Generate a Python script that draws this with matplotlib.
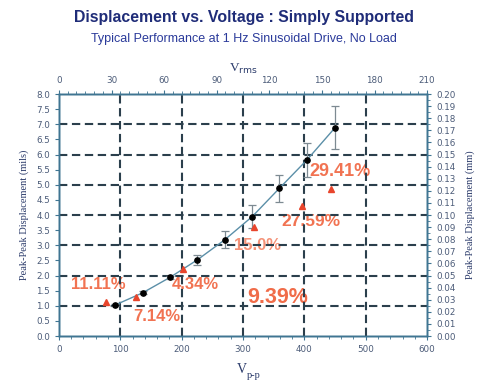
import matplotlib
matplotlib.use('Agg')
import matplotlib.pyplot as plt
from matplotlib.ticker import MultipleLocator

# measured displacement (mils) vs peak-peak voltage
vpp = [91, 136.5, 181, 225.6, 270, 315, 359, 404, 450]
disp = [1.02, 1.43, 1.94, 2.52, 3.18, 3.95, 4.88, 5.82, 6.89]
disp_err = [0.03, 0.05, 0.06, 0.16, 0.28, 0.38, 0.45, 0.55, 0.72]

# second series (red triangles)
tri_vpp = [76.6, 125, 201.8, 318, 395.9, 443]
tri_disp = [1.12, 1.29, 2.21, 3.61, 4.29, 4.87]

# percentage labels: text, x, y
pct_text = ["11.11%", "7.14%", "4.34%", "15.0%", "27.59%", "29.41%", "9.39%"]
pct_x = [63.6, 160, 223, 324, 411, 458, 357]
pct_y = [1.69, 0.66, 1.69, 2.98, 3.80, 5.45, 1.29]
pct_size = [12, 12, 12, 12, 12.5, 13, 15.5]
pct_alpha = [0.9, 0.9, 0.9, 0.7, 0.9, 0.9, 0.95]

navy = '#1f2c78'
spine_c = '#3f7592'
tick_c = '#4b5b78'
label_c = '#2a3a6a'
red = '#e8452c'
orange = '#f0643f'

fig = plt.figure(figsize=(4.87, 3.81), dpi=100)
ax = fig.add_axes([0.121, 0.118, 0.756, 0.635])

ax.set_xlim(0, 600)
ax.set_ylim(0, 8.0)

# dashed grid
for gx in [100, 200, 300, 400, 500]:
    ax.axvline(gx, color='#2b3f4c', lw=1.5, ls=(0, (4, 2.2)), zorder=3)
for gy in [1, 2, 3, 4, 5, 6, 7]:
    ax.axhline(gy, color='#2b3f4c', lw=1.5, ls=(0, (4, 2.2)), zorder=3)

# percentage text sits under the grid
for t, x, y, s, a in zip(pct_text, pct_x, pct_y, pct_size, pct_alpha):
    ax.text(x, y, t, color=orange, fontsize=s, fontweight='bold',
            ha='center', va='center', family='Liberation Sans', zorder=2, alpha=a)

ax.plot(vpp, disp, color='#5b8fa8', lw=1.0, zorder=4)
ax.errorbar(vpp, disp, yerr=disp_err, fmt='none', ecolor='#7d8a92',
            elinewidth=0.9, capsize=3, capthick=0.9, zorder=4)
ax.plot(vpp, disp, 'o', color='black', ms=3.8, zorder=5)
ax.plot(tri_vpp, tri_disp, '^', color=red, ms=5, zorder=5)

# bottom / left axes
ax.xaxis.set_major_locator(MultipleLocator(100))
ax.xaxis.set_minor_locator(MultipleLocator(20))
ax.yaxis.set_major_locator(MultipleLocator(0.5))
ax.yaxis.set_major_formatter(plt.FormatStrFormatter('%.1f'))
ax.tick_params(axis='both', which='major', labelsize=6.3, colors=spine_c,
               labelcolor=tick_c, length=3, width=0.8, direction='out')
ax.tick_params(axis='both', which='minor', colors=spine_c, length=2, width=0.6)
for sp in ax.spines.values():
    sp.set_color(spine_c)
    sp.set_linewidth(1.0)

ax.set_ylabel('Peak-Peak Displacement (mils)', family='Liberation Serif',
              fontsize=7.5, color=label_c, labelpad=5)

# V p-p label below the bottom axis
fig.text(0.507, 0.022, 'V', family='Liberation Serif', fontsize=10,
         color=label_c, ha='right', va='baseline')
fig.text(0.507, 0.009, 'p-p', family='Liberation Serif', fontsize=7.5,
         color=label_c, ha='left', va='baseline')

# top axis: Vrms
axt = ax.twiny()
axt.set_xlim(0, 210)
axt.xaxis.set_major_locator(MultipleLocator(30))
axt.xaxis.set_minor_locator(MultipleLocator(5))
axt.tick_params(axis='x', which='major', labelsize=6.3, colors=spine_c,
                labelcolor=tick_c, length=3, width=0.8)
axt.tick_params(axis='x', which='minor', colors=spine_c, length=2, width=0.6)
axt.set_xlabel(r'V$_{\rm rms}$', family='Liberation Serif', fontsize=9.5,
               color=label_c, labelpad=3)

# right axis: mm
axr = ax.twinx()
axr.set_ylim(0, 0.20)
axr.yaxis.set_major_locator(MultipleLocator(0.01))
axr.yaxis.set_minor_locator(MultipleLocator(0.005))
axr.yaxis.set_major_formatter(plt.FormatStrFormatter('%.2f'))
axr.tick_params(axis='y', which='major', labelsize=6.3, colors=spine_c,
                labelcolor=tick_c, length=3, width=0.8)
axr.tick_params(axis='y', which='minor', colors=spine_c, length=2, width=0.6)
axr.set_ylabel('Peak-Peak Displacement (mm)', family='Liberation Serif',
               fontsize=7.5, color=label_c, labelpad=7)
for a in (axt, axr):
    for sp in a.spines.values():
        sp.set_color(spine_c)
        sp.set_linewidth(1.0)

fig.text(0.5, 0.953, 'Displacement vs. Voltage : Simply Supported', ha='center',
         va='center', fontsize=11.4, fontweight='bold', color=navy, family='Liberation Sans')
fig.text(0.5, 0.897, 'Typical Performance at 1 Hz Sinusoidal Drive, No Load', ha='center',
         va='center', fontsize=9, color='#2a3a9a', family='Liberation Sans')

fig.savefig('out.png', dpi=100)
